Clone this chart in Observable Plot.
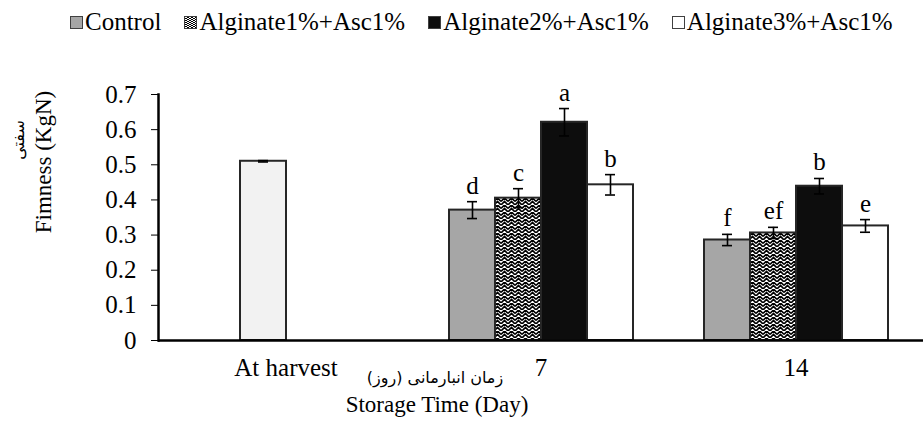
<!DOCTYPE html>
<html>
<head>
<meta charset="utf-8">
<script src="https://cdn.jsdelivr.net/npm/d3@7"></script>
<script src="https://cdn.jsdelivr.net/npm/@observablehq/plot@0.6"></script>
<style>
  html, body { margin: 0; padding: 0; background: #fff; }
  body { width: 923px; height: 421px; overflow: hidden; font-family: "Liberation Serif", "Times New Roman", serif; }
  #legend { height: 44px; display: flex; align-items: center; padding-left: 70px; font-size: 25px; color: #000; white-space: nowrap; }
  #legend .item { display: flex; align-items: center; margin-right: 23px; }
  svg text { font-family: "Liberation Serif", "Times New Roman", serif; }
</style>
</head>
<body>
<div id="legend"></div>
<div id="chart"></div>
<script>
const groups = ["At harvest", "7", "14"];
const series = ["Control", "Alginate1%+Asc1%", "Alginate2%+Asc1%", "Alginate3%+Asc1%"];
const harvestValue = 0.510;
const harvestErr = 0.002;
const harvestSlot = "Alginate1%+Asc1%";
const day7Values = [0.371, 0.405, 0.621, 0.443];
const day7Err = [0.024, 0.027, 0.039, 0.029];
const day7Letters = ["d", "c", "a", "b"];
const day14Values = [0.286, 0.306, 0.439, 0.326];
const day14Err = [0.016, 0.016, 0.022, 0.018];
const day14Letters = ["f", "ef", "b", "e"];
const yTicks = [0, 0.1, 0.2, 0.3, 0.4, 0.5, 0.6, 0.7];
const seriesFills = ["#a6a6a6", "url(#zigzag)", "#0d0d0d", "#ffffff"];
const legendFills = ["#a6a6a6", "url(#zigzagLegend)", "#0d0d0d", "#ffffff"];

const rows = [];
series.forEach((s, i) => {
  rows.push({group: "7", series: s, value: day7Values[i], err: day7Err[i], letter: day7Letters[i]});
  rows.push({group: "14", series: s, value: day14Values[i], err: day14Err[i], letter: day14Letters[i]});
});
const harvestRows = [{group: "At harvest", series: harvestSlot, value: harvestValue, err: harvestErr}];
const allRows = rows.concat(harvestRows);

const chart = Plot.plot({
  width: 923,
  height: 377,
  marginTop: 50,
  marginBottom: 81,
  marginLeft: 157,
  marginRight: 0,
  style: {fontFamily: "Liberation Serif, Times New Roman, serif", fontSize: "25px", color: "#000", background: "#fff"},
  fx: {domain: groups, padding: 0, label: null, tickSize: 0, tickPadding: 18, axis: "bottom"},
  x: {domain: series, paddingInner: 0, paddingOuter: 0.745, axis: null},
  y: {domain: [0, 0.7], ticks: yTicks, tickFormat: d => d === 0 ? "0" : d.toFixed(1), label: null, tickSize: 7, tickPadding: 15},
  color: {domain: series, range: seriesFills},
  marks: [
    Plot.barY(rows, {fx: "group", x: "series", y: "value", fill: "series", stroke: "#262626", strokeWidth: 2}),
    Plot.barY(harvestRows, {fx: "group", x: "series", y: "value", fill: "#f2f2f2", stroke: "#262626", strokeWidth: 2}),
    Plot.ruleY([0], {stroke: "#000", strokeWidth: 2.5}),
    Plot.frame({anchor: "left", facet: "super", stroke: "#000", strokeWidth: 2.5}),
    Plot.ruleX(allRows, {fx: "group", x: "series", y1: d => d.value - d.err, y2: d => d.value + d.err, stroke: "#000", strokeWidth: 1.6}),
    Plot.tickY(allRows, {fx: "group", x: "series", y: d => d.value - d.err, stroke: "#000", strokeWidth: 1.6, insetLeft: 18, insetRight: 18}),
    Plot.tickY(allRows, {fx: "group", x: "series", y: d => d.value + d.err, stroke: "#000", strokeWidth: 1.6, insetLeft: 18, insetRight: 18}),
    Plot.text(rows, {fx: "group", x: "series", y: d => d.value + d.err, text: "letter", dy: -16, fontSize: 25, fill: "#000"})
  ]
});

const svg = d3.select(chart.tagName.toLowerCase() === "svg" ? chart : chart.querySelector("svg"));
const defs = svg.insert("defs", ":first-child");
function addPattern(sel, id, size, sw) {
  const p = sel.append("pattern").attr("id", id).attr("patternUnits", "userSpaceOnUse").attr("width", size).attr("height", size);
  p.append("rect").attr("width", size).attr("height", size).attr("fill", "#fff");
  const h = size / 2;
  p.append("path").attr("d", `M0,${h} L${h},0 L${size},${h} M0,${size} L${h},${h} L${size},${size}`)
    .attr("fill", "none").attr("stroke", "#000").attr("stroke-width", sw);
}
addPattern(defs, "zigzag", 7, 1.6);

svg.append("text").attr("x", 435).attr("y", 334).attr("text-anchor", "middle").attr("dominant-baseline", "middle")
  .style("font-family", "'DejaVu Sans', 'Noto Sans', sans-serif").attr("font-size", 16).attr("direction", "rtl").text("زمان انبارمانی (روز)");
svg.append("text").attr("x", 437).attr("y", 363).attr("text-anchor", "middle").attr("dominant-baseline", "middle")
  .attr("font-size", 23).text("Storage Time (Day)");
svg.append("text").attr("transform", "translate(46,118) rotate(-90)").attr("text-anchor", "middle").attr("dominant-baseline", "middle")
  .attr("font-size", 23).text("Fimness (KgN)");
svg.append("text").attr("transform", "translate(19,96) rotate(-90)").attr("text-anchor", "middle").attr("dominant-baseline", "middle")
  .style("font-family", "'DejaVu Sans', 'Noto Sans', sans-serif").attr("font-size", 16).attr("direction", "rtl").text("سفتی");

document.getElementById("chart").appendChild(chart);

// legend
const legend = d3.select("#legend");
const lsvg = d3.select("body").append("svg").attr("width", 0).attr("height", 0).style("position", "absolute");
addPattern(lsvg.append("defs"), "zigzagLegend", 4, 1);
series.forEach((s, i) => {
  const item = legend.append("div").attr("class", "item");
  const sw = item.append("svg").attr("width", 13).attr("height", 13).style("margin-right", "2px");
  sw.append("rect").attr("x", 0.5).attr("y", 0.5).attr("width", 12).attr("height", 12)
    .attr("fill", legendFills[i]).attr("stroke", "#404040").attr("stroke-width", 1);
  item.append("span").text(s);
});
</script>
</body>
</html>
